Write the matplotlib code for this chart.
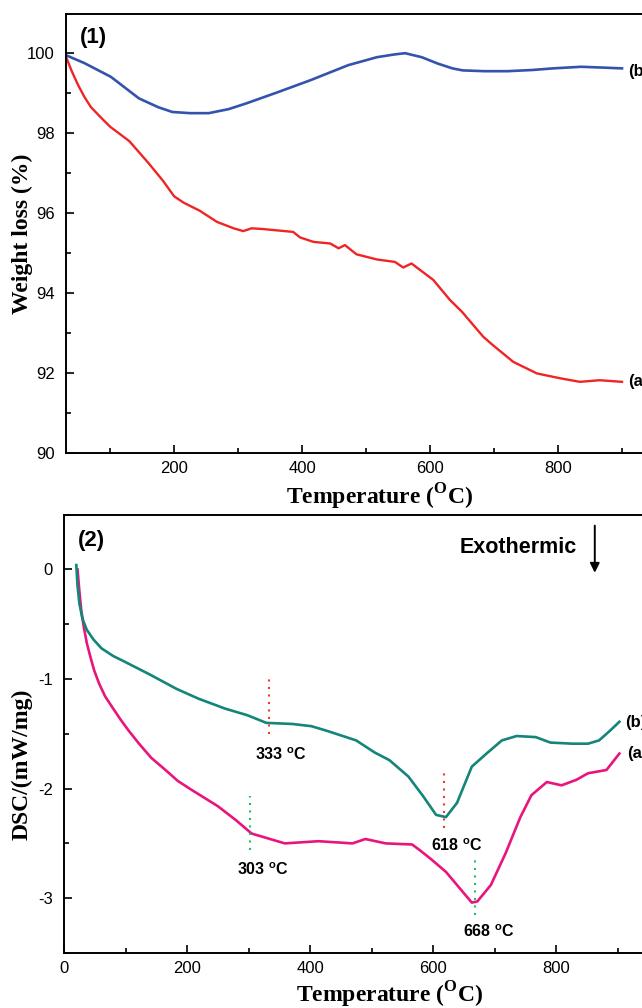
import matplotlib
matplotlib.use("Agg")
import matplotlib.pyplot as plt
from matplotlib.ticker import MultipleLocator

plt.rcParams['font.family'] = ['Liberation Sans', 'DejaVu Sans']
plt.rcParams['mathtext.fontset'] = 'custom'
plt.rcParams['mathtext.rm'] = 'Liberation Serif:bold'
plt.rcParams['mathtext.sf'] = 'Liberation Sans:bold'
plt.rcParams['axes.unicode_minus'] = False

# (1) TG curves: temperature (C) and weight (%)
tg_a_t = [30, 40, 50, 60, 70, 85, 100, 130, 160, 183, 200, 215, 240, 267, 293, 308,
          321, 340, 386, 397, 418, 444, 457, 467, 485, 517, 545, 558, 571, 605, 631,
          650, 683, 698, 730, 767, 803, 834, 865, 900]
tg_a_w = [99.95, 99.55, 99.2, 98.9, 98.65, 98.4, 98.16, 97.8, 97.25, 96.8, 96.42,
          96.26, 96.06, 95.78, 95.62, 95.55, 95.62, 95.6, 95.53, 95.39, 95.28, 95.24,
          95.12, 95.2, 94.97, 94.84, 94.78, 94.64, 94.74, 94.33, 93.83, 93.53, 92.91,
          92.7, 92.28, 91.99, 91.87, 91.78, 91.82, 91.78]
tg_b_t = [31, 60, 101, 145, 175, 197, 225, 254, 285, 312, 363, 414, 472, 517, 545,
          561, 587, 612, 635, 651, 685, 721, 760, 792, 836, 870, 900]
tg_b_w = [99.95, 99.75, 99.41, 98.87, 98.65, 98.53, 98.5, 98.5, 98.6, 98.74, 99.03,
          99.33, 99.7, 99.9, 99.97, 100.0, 99.9, 99.74, 99.62, 99.57, 99.55, 99.55,
          99.58, 99.62, 99.66, 99.64, 99.62]

# (2) DSC curves: temperature (C) and heat flow (mW/mg)
dsc_a_t = [22, 25, 28, 32, 37, 43, 49, 57, 67, 80, 92, 105, 122, 142, 165, 185, 207,
           250, 280, 305, 329, 359, 414, 469, 490, 523, 566, 578, 596, 621, 645, 663,
           672, 694, 718, 742, 760, 785, 809, 833, 852, 882, 903]
dsc_a_v = [0.0, -0.2, -0.37, -0.52, -0.67, -0.80, -0.92, -1.04, -1.16, -1.27, -1.37,
           -1.47, -1.59, -1.72, -1.83, -1.93, -2.01, -2.16, -2.29, -2.41, -2.45, -2.50,
           -2.48, -2.50, -2.46, -2.50, -2.51, -2.56, -2.64, -2.76, -2.92, -3.04, -3.03,
           -2.88, -2.59, -2.26, -2.06, -1.94, -1.97, -1.92, -1.86, -1.83, -1.68]
dsc_b_t = [20, 22, 25, 30, 37, 48, 61, 80, 98, 140, 183, 219, 262, 298, 329, 371,
           402, 426, 475, 505, 529, 560, 584, 605, 621, 639, 663, 687, 712, 736, 767,
           791, 827, 852, 870, 888, 903]
dsc_b_v = [0.04, -0.15, -0.31, -0.45, -0.55, -0.64, -0.72, -0.79, -0.84, -0.96,
           -1.09, -1.18, -1.27, -1.33, -1.40, -1.41, -1.43, -1.47, -1.56, -1.67, -1.74,
           -1.89, -2.07, -2.24, -2.26, -2.13, -1.80, -1.68, -1.56, -1.52, -1.53, -1.58,
           -1.59, -1.59, -1.56, -1.47, -1.39]

# marked peak temperatures
peak_t = [333, 618, 303, 668]
peak_span = [(-0.99, -1.50), (-1.86, -2.36), (-2.07, -2.56), (-2.64, -3.15)]
peak_col = ['#f03a2a', '#f03a2a', '#1fbf62', '#1fbf62']
peak_txt_pos = [(311, -1.69), (596, -2.52), (281, -2.74), (649, -3.31)]

fig = plt.figure(figsize=(6.42, 10.08), dpi=100)

serif = dict(family='Liberation Serif', weight='bold', size=17)

# ---- panel (1)
ax1 = fig.add_axes([0.1028, 0.5506, 0.9657, 0.4355])
ax1.plot(tg_a_t, tg_a_w, color='#f02424', lw=1.7)
ax1.plot(tg_b_t, tg_b_w, color='#3353ad', lw=1.9)
ax1.set_xlim(31, 1000)
ax1.set_ylim(90, 100.98)
ax1.set_xticks([200, 400, 600, 800])
ax1.xaxis.set_minor_locator(MultipleLocator(100))
ax1.yaxis.set_major_locator(MultipleLocator(2))
ax1.yaxis.set_minor_locator(MultipleLocator(1))
ax1.text(909, 99.53, '(b)', fontsize=12, fontweight='bold', va='center')
ax1.text(909, 91.78, '(a)', fontsize=12, fontweight='bold', va='center')
ax1.text(0.022, 0.97, '(1)', transform=ax1.transAxes, fontsize=16, fontweight='bold',
         va='top')
ax1.set_ylabel('Weight loss (%)', fontdict=serif, va='center')
ax1.yaxis.set_label_coords(-0.071, 0.5)
ax1.set_xlabel(r'Temperature ($^{\rm O}$C)', fontdict=serif, va='center')
ax1.xaxis.set_label_coords(0.506, -0.100)

# ---- panel (2)
ax2 = fig.add_axes([0.0997, 0.0546, 0.958, 0.4348])
ax2.plot(dsc_a_t, dsc_a_v, color='#e8157d', lw=1.9)
ax2.plot(dsc_b_t, dsc_b_v, color='#138579', lw=1.9)
for t, (y0, y1), c, (tx, ty) in zip(peak_t, peak_span, peak_col, peak_txt_pos):
    ax2.vlines(t, y1, y0, colors=c, linestyles=(0, (1, 2.6)), lw=1.5)
    ax2.text(tx, ty, '%d $^{\\mathsf{o}}$C' % t, fontsize=11.5, fontweight='bold',
             va='center')
ax2.set_xlim(0, 1000)
ax2.set_ylim(-3.5, 0.5)
ax2.set_xticks([0, 200, 400, 600, 800])
ax2.xaxis.set_minor_locator(MultipleLocator(100))
ax2.yaxis.set_major_locator(MultipleLocator(1))
ax2.yaxis.set_minor_locator(MultipleLocator(0.5))
ax2.text(912, -1.40, '(b)', fontsize=12, fontweight='bold', va='center')
ax2.text(915, -1.68, '(a)', fontsize=12, fontweight='bold', va='center')
ax2.text(0.022, 0.965, '(2)', transform=ax2.transAxes, fontsize=16, fontweight='bold',
         va='top')
ax2.text(834, 0.20, 'Exothermic', fontsize=15.5, fontweight='bold', ha='right',
         va='center')
ax2.annotate('', xy=(863, -0.03), xytext=(863, 0.40),
             arrowprops=dict(arrowstyle='-|>', color='black', lw=1.4,
                             mutation_scale=14, shrinkA=0, shrinkB=0))
ax2.set_ylabel('DSC/(mW/mg)', fontdict=serif, va='center')
ax2.yaxis.set_label_coords(-0.068, 0.43)
ax2.set_xlabel(r'Temperature ($^{\rm O}$C)', fontdict=serif, va='center')
ax2.xaxis.set_label_coords(0.53, -0.096)

for ax in (ax1, ax2):
    for s in ax.spines.values():
        s.set_linewidth(1.4)
    ax.tick_params(which='both', direction='in', labelsize=12, width=1.2, pad=6)
    ax.tick_params(which='major', length=6)
    ax.tick_params(which='minor', length=3.5)
    ax.tick_params(axis='y', pad=8)

fig.savefig('out.png', dpi=100)
